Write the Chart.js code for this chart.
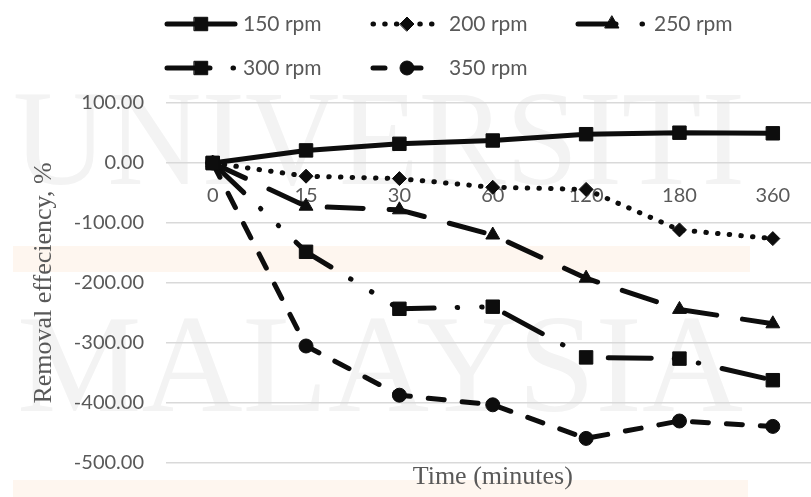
<!DOCTYPE html>
<html>
<head>
<meta charset="utf-8">
<script src="https://cdn.jsdelivr.net/npm/chart.js@4/dist/chart.umd.min.js"></script>
<style>
  html, body { margin: 0; padding: 0; background: #ffffff; overflow: hidden; }
  #wrap { position: relative; width: 811px; height: 497px; overflow: hidden; }
  #c { position: absolute; left: 0; top: 0; }
</style>
</head>
<body>
<div id="wrap"><canvas id="c" width="830" height="497"></canvas></div>
<script>
// Sampling times (minutes) and removal efficiency (%) per stirring speed
const categories = ['0', '15', '30', '60', '120', '180', '360'];
const rpm150 = [0, 21, 32, 37.5, 48, 50.5, 49.5];
const rpm200 = [0, -22, -26, -40.5, -44, -111.5, -126];
const rpm250 = [0, -72, -78, -120, -192, -244, -268];
const rpm300 = [0, -148, -243, -239.5, -324, -326, -362];
const rpm350 = [0, -305, -387, -403, -459, -430, -439];
const seriesNames = ['150 rpm', '200 rpm', '250 rpm', '300 rpm', '350 rpm'];
const yTicks = [100, 0, -100, -200, -300, -400, -500];

const seriesData = [rpm150, rpm200, rpm250, rpm300, rpm350];

// Line dash and marker per series
const styles = [
  { dash: [],                           legendDash: [],                point: 'rect',     radius: 9.5 },
  { dash: [0.5, 11.2],                  legendDash: [0.5, 11.2],       point: 'rectRot',  radius: 7 },
  { dash: [36, 26],                     legendDash: [38, 26, 0.5, 40], point: 'triangle', radius: 8 },
  { dash: [43, 23, 0.5, 24, 0.5, 24],   legendDash: [43, 23, 0.5, 40], point: 'rect',     radius: 9.5 },
  { dash: [16, 18],                     legendDash: [12, 22, 14, 40],  point: 'circle',   radius: 7 }
];

const INK = '#0d0d0d';
const TEXT = '#595959';

// Faint page watermark and tint bands behind the plot
const backdrop = {
  id: 'backdrop',
  beforeDraw(chart) {
    const ctx = chart.ctx;
    ctx.save();
    ctx.fillStyle = '#fef6ef';
    ctx.fillRect(13, 246, 737, 26);
    ctx.fillRect(13, 480, 735, 17);
    ctx.fillStyle = '#f3f3f3';
    ctx.textBaseline = 'alphabetic';
    const marks = [
      { text: 'UNIVERSITI', x: 13, y: 184, w: 732, size: 136 },
      { text: 'MALAYSIA',   x: 17, y: 411, w: 726, size: 140 }
    ];
    marks.forEach(m => {
      ctx.font = m.size + 'px "Liberation Serif", serif';
      const tw = ctx.measureText(m.text).width;
      ctx.save();
      ctx.translate(m.x, m.y);
      ctx.scale(m.w / tw, 1);
      ctx.fillText(m.text, 0, 0);
      ctx.restore();
    });
    ctx.restore();
  }
};

// Two-row legend with line sample and marker
const legendSlots = [
  { x: 165, y: 24 }, { x: 371, y: 24 }, { x: 576, y: 24 },
  { x: 165, y: 68 }, { x: 371, y: 68 }
];
const sampleWidth = 72;

const lineLegend = {
  id: 'lineLegend',
  afterDraw(chart) {
    const ctx = chart.ctx;
    chart.data.datasets.forEach((ds, i) => {
      const slot = legendSlots[i];
      const st = styles[i];
      ctx.save();
      ctx.strokeStyle = INK;
      ctx.lineWidth = ds.borderWidth;
      ctx.lineCap = 'round';
      ctx.setLineDash(st.legendDash);
      ctx.beginPath();
      ctx.moveTo(slot.x + 2, slot.y);
      ctx.lineTo(slot.x + sampleWidth - 2, slot.y);
      ctx.stroke();
      ctx.setLineDash([]);
      ctx.fillStyle = INK;
      ctx.lineWidth = 1;
      Chart.helpers.drawPoint(ctx, {
        pointStyle: st.point, radius: st.radius, rotation: 0, borderWidth: 1
      }, slot.x + sampleWidth / 2, slot.y);
      ctx.fillStyle = TEXT;
      ctx.font = '21px Lato, sans-serif';
      ctx.textBaseline = 'middle';
      ctx.textAlign = 'left';
      ctx.fillText(ds.label, slot.x + sampleWidth + 6, slot.y);
      ctx.restore();
    });
  }
};

const datasets = seriesNames.map((name, i) => ({
  label: name,
  data: seriesData[i],
  xAxisID: 'x',
  yAxisID: 'y',
  borderColor: INK,
  backgroundColor: INK,
  borderWidth: 5,
  borderDash: styles[i].dash,
  borderCapStyle: 'round',
  borderJoinStyle: 'round',
  pointStyle: styles[i].point,
  pointRadius: styles[i].radius,
  pointHoverRadius: styles[i].radius,
  pointBackgroundColor: INK,
  pointBorderColor: INK,
  pointBorderWidth: 1,
  tension: 0,
  fill: false,
  clip: false
}));

new Chart(document.getElementById('c'), {
  type: 'line',
  data: { labels: categories, datasets },
  plugins: [backdrop, lineLegend],
  options: {
    responsive: false,
    animation: false,
    layout: { padding: { top: 103, right: 6, bottom: 0, left: 0 } },
    plugins: { legend: { display: false }, tooltip: { enabled: false } },
    scales: {
      x: {
        type: 'category',
        labels: categories,
        offset: true,
        position: { y: 0 },
        grid: { display: false, drawTicks: false },
        border: { display: false },
        ticks: {
          color: TEXT, font: { family: 'Lato', size: 20 },
          padding: 21, maxRotation: 0, autoSkip: false
        }
      },
      xt: {
        type: 'category',
        axis: 'x',
        labels: categories,
        offset: true,
        position: 'bottom',
        grid: { display: false, drawTicks: false },
        border: { display: false },
        ticks: { display: false },
        title: {
          display: true, text: 'Time (minutes)', color: TEXT,
          font: { family: 'Liberation Serif', size: 26 },
          padding: { top: 0, bottom: 4 }
        },
        afterFit(s) { s.height = 34; }
      },
      y: {
        min: -500,
        max: 100,
        position: 'left',
        afterBuildTicks(s) { s.ticks = yTicks.map(v => ({ value: v })); },
        ticks: {
          color: TEXT, font: { family: 'Lato', size: 20 }, padding: 22,
          callback: v => Number(v).toFixed(2)
        },
        grid: { color: '#d9d9d9', lineWidth: 1.5, drawTicks: false },
        border: { display: false },
        title: {
          display: true, text: 'Removal effeciency, %', color: TEXT,
          font: { family: 'Liberation Serif', size: 26 },
          padding: { top: 29, bottom: 0 }
        },
        afterFit(s) { s.width = 166; }
      }
    }
  }
});
</script>
</body>
</html>
